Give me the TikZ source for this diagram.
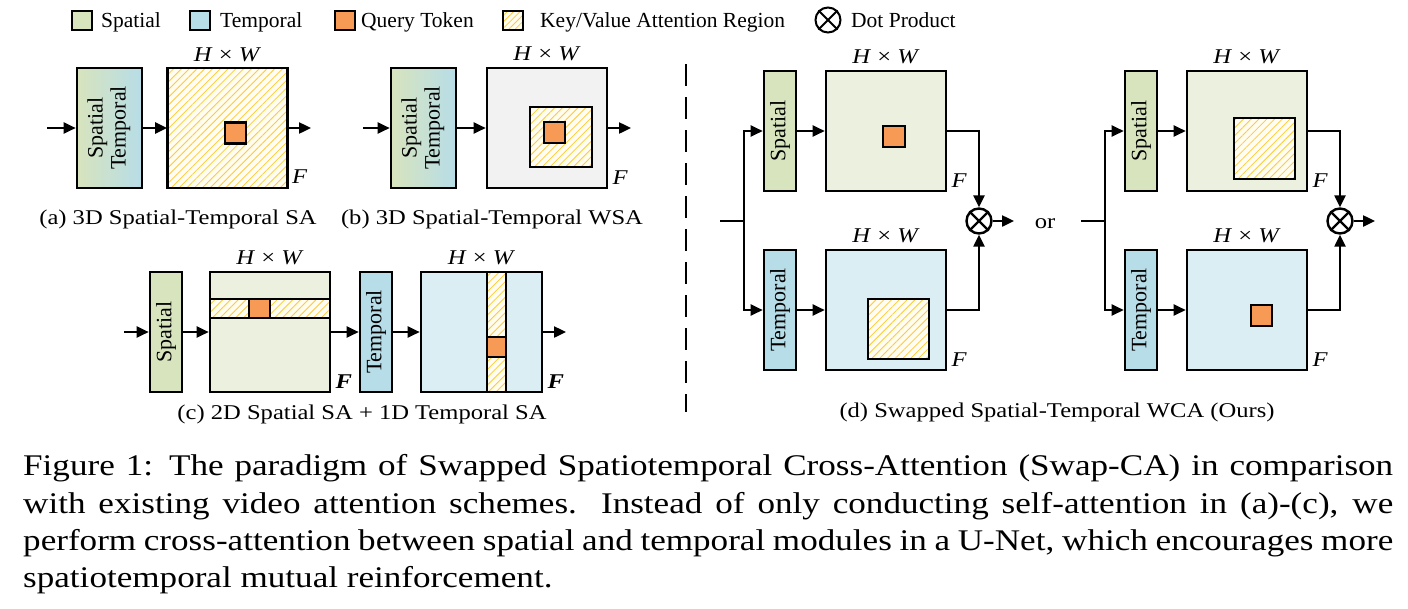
\documentclass[tikz,border=0pt]{standalone}
\usepackage{fontspec}
\setmainfont{Liberation Serif}
\newfontfamily\lblfam{Liberation Serif}[FakeStretch=1.17]
\usetikzlibrary{arrows.meta,patterns.meta,calc}
\definecolor{spA}{HTML}{D7E4BD}
\definecolor{spB}{HTML}{EBF1DE}
\definecolor{tpA}{HTML}{B7DDE8}
\definecolor{tpB}{HTML}{DAEEF3}
\definecolor{qcol}{HTML}{F79A56}
\definecolor{hatchc}{HTML}{FFCA33}
\definecolor{hatchbg}{HTML}{FFFCF2}
\definecolor{grayA}{HTML}{F2F2F2}
\newcommand\myboxfont{\fontsize{22}{23}\selectfont}
\newcommand\mylblfont{\lblfam\fontsize{21}{24}\selectfont}
\newcommand\mylegfont{\fontsize{21.5}{24}\selectfont}
\newcommand\mycapfont{\lblfam\fontsize{30}{37}\selectfont}
\begin{document}
\begin{tikzpicture}[x=1pt,y=-1pt,
  every node/.style={inner sep=0pt},
  mod/.style={draw, line width=2.6pt, minimum width=32pt, minimum height=120pt, font=\myboxfont},
  fmap/.style={draw, line width=2.6pt, minimum width=120pt, minimum height=120pt},
  tok/.style={draw, line width=2.4pt, fill=qcol, minimum width=21pt, minimum height=21pt},
  hatchpat/.style={preaction={fill=hatchbg}, pattern={Lines[angle=45,distance=5.5pt,line width=0.8pt]}, pattern color=hatchc},
  hatch/.style={draw, line width=2.4pt, hatchpat},
  arr/.style={line width=2.4pt, -{Triangle[length=12pt,width=11pt]}},
  ln/.style={line width=2.4pt},
  hw/.style={font=\mylblfont, anchor=base, yshift=6pt},
  flab/.style={font=\mylblfont, anchor=base west, xshift=4pt, yshift=5pt},
  sub/.style={font=\mylblfont, anchor=base},
  sw/.style={draw, line width=2pt, minimum width=20pt, minimum height=19pt},
  leg/.style={font=\mylegfont, anchor=base west},
  otimes/.style={draw, circle, line width=2.4pt, minimum size=25pt}
]
\fill[white] (0,0) rectangle (1408,608);
\useasboundingbox (0,0) rectangle (1408,608);

% ---------- legend ----------
\node[sw, fill=spA] (lg1) at (81.5,20.5) {};
\node[leg] (lt1) at (101,27) {Spatial};
\node[sw, fill=tpA] (lg2) at (199.5,20.5) {};
\node[leg] (lt2) at (220,27) {Temporal};
\node[sw, fill=qcol] (lg3) at (344.5,20.5) {};
\node[leg] (lt3) at (361,27) {Query Token};
\node[sw, preaction={fill=hatchbg}, pattern={Lines[angle=45,distance=4.5pt,line width=0.8pt]}, pattern color=hatchc] (lg4) at (513,20.5) {};
\node[leg] (lt4) at (540,27) {Key/Value Attention Region};
\node[otimes, line width=2pt, minimum size=25pt] (lg5) at (828,20) {};
\draw[line width=2pt] (lg5.north east) -- (lg5.south west) (lg5.north west) -- (lg5.south east);
\node[leg] (lt5) at (851,27) {Dot Product};

% ---------- (a) ----------
\coordinate (ain) at (47,128);
\node[mod, minimum width=65pt, left color=spA, right color=tpA] (ga) at (109.5,128)
  {\rotatebox{90}{\begin{tabular}{@{}c@{}}Spatial\\Temporal\end{tabular}}};
\node[fmap, hatchpat] (A) at (227.5,128) {};
\node[tok] (qa) at (235.5,133) {};
\coordinate (aout) at (311,128);
\draw[arr] (ain) -- (ga.west);
\draw[arr] (ga.east) -- (A.west);
\draw[arr] (A.east) -- (aout);
\node[hw] (hwa) at (A.north) {\textit{H} × \textit{W}};
\node[flab] (fa) at (A.south east) {\textit{F}};
\node[sub] (capa) at (178,224) {(a) 3D Spatial-Temporal SA};

% ---------- (b) ----------
\coordinate (bin) at (363,128);
\node[mod, minimum width=65pt, left color=spA, right color=tpA] (gb) at (423.5,128)
  {\rotatebox{90}{\begin{tabular}{@{}c@{}}Spatial\\Temporal\end{tabular}}};
\node[fmap, fill=grayA] (B) at (547,128) {};
\node[hatch, minimum width=62pt, minimum height=60pt] (wb) at (561,137) {};
\node[tok] (qb) at (554.5,132.5) {};
\coordinate (bout) at (631,128);
\draw[arr] (bin) -- (gb.west);
\draw[arr] (gb.east) -- (B.west);
\draw[arr] (B.east) -- (bout);
\node[hw] (hwb) at (B.north) {\textit{H} × \textit{W}};
\node[flab] (fb) at (B.south east) {\textit{F}};
\node[sub] (capb) at (492,224) {(b) 3D Spatial-Temporal WSA};

% ---------- (c) ----------
\coordinate (cin) at (124,332);
\node[mod, fill=spA] (spc) at (166,332) {\rotatebox{90}{Spatial}};
\node[fmap, fill=spB] (C1) at (270,332) {};
\node[hatch, minimum width=120pt, minimum height=19pt] (rowc) at (270,308.5) {};
\node[tok, minimum height=19pt] (qc1) at (259.5,308.5) {};
\node[mod, fill=tpA] (tpc) at (376,332) {\rotatebox{90}{Temporal}};
\node[fmap, minimum width=121pt, fill=tpB] (C2) at (481.5,332) {};
\node[hatch, minimum width=19pt, minimum height=120pt] (colc) at (496.5,332) {};
\node[tok, minimum width=19pt, minimum height=20pt] (qc2) at (496.5,347) {};
\coordinate (cout) at (566,332);
\draw[arr] (cin) -- (spc.west);
\draw[arr] (spc.east) -- (C1.west);
\draw[arr] (C1.east) -- (tpc.west);
\draw[arr] (tpc.east) -- (C2.west);
\draw[arr] (C2.east) -- (cout);
\node[hw] (hwc1) at (C1.north) {\textit{H} × \textit{W}};
\node[hw] (hwc2) at (C2.north) {\textit{H} × \textit{W}};
\node[flab] (fc1) at (C1.south east) {\textbf{\textit{F}}};
\node[flab] (fc2) at (C2.south east) {\textbf{\textit{F}}};
\node[sub] (capc) at (362,419) {(c) 2D Spatial SA + 1D Temporal SA};

% ---------- divider ----------
\coordinate (dv1) at (686,64);
\coordinate (dv2) at (686,412);
\draw[line width=2.6pt, dash pattern=on 22pt off 11pt] (dv1) -- (dv2);

% ---------- (d) left ----------
\coordinate (din) at (720,221);
\coordinate (dbr) at (744,221);
\node[mod, fill=spA] (sd1) at (780,131) {\rotatebox{90}{Spatial}};
\node[mod, fill=tpA] (td1) at (780,310) {\rotatebox{90}{Temporal}};
\node[fmap, fill=spB] (D1) at (886,131) {};
\node[tok, minimum width=22pt] (qd1) at (894,136.5) {};
\node[fmap, fill=tpB] (D2) at (886,310) {};
\node[hatch, minimum width=61pt, minimum height=60pt] (wd2) at (898.5,329) {};
\node[otimes] (ot1) at (979,221) {};
\draw[ln] (ot1.north east) -- (ot1.south west) (ot1.north west) -- (ot1.south east);
\coordinate (dout1) at (1014,221);
\draw[ln] (din) -- (dbr);
\draw[arr] (dbr) |- (sd1.west);
\draw[arr] (dbr) |- (td1.west);
\draw[arr] (sd1.east) -- (D1.west);
\draw[arr] (td1.east) -- (D2.west);
\draw[arr] (D1.east) -| (ot1.north);
\draw[arr] (D2.east) -| (ot1.south);
\draw[arr] (ot1.east) -- (dout1);
\node[hw] (hwd1) at (D1.north) {\textit{H} × \textit{W}};
\node[hw] (hwd2) at (D2.north) {\textit{H} × \textit{W}};
\node[flab] (fd1) at (D1.south east) {\textit{F}};
\node[flab] (fd2) at (D2.south east) {\textit{F}};
\node[font=\mylblfont, anchor=base] (orl) at (1045,228) {or};

% ---------- (d) right ----------
\coordinate (ein) at (1081,221);
\coordinate (ebr) at (1105,221);
\node[mod, fill=spA] (sd2) at (1141,131) {\rotatebox{90}{Spatial}};
\node[mod, fill=tpA] (td2) at (1141,310) {\rotatebox{90}{Temporal}};
\node[fmap, fill=spB] (D3) at (1247,131) {};
\node[hatch, minimum width=61pt, minimum height=61pt] (wd3) at (1264.5,148.5) {};
\node[fmap, fill=tpB] (D4) at (1247,310) {};
\node[tok] (qd4) at (1261.5,315.5) {};
\node[otimes] (ot2) at (1340,221) {};
\draw[ln] (ot2.north east) -- (ot2.south west) (ot2.north west) -- (ot2.south east);
\coordinate (dout2) at (1375,221);
\draw[ln] (ein) -- (ebr);
\draw[arr] (ebr) |- (sd2.west);
\draw[arr] (ebr) |- (td2.west);
\draw[arr] (sd2.east) -- (D3.west);
\draw[arr] (td2.east) -- (D4.west);
\draw[arr] (D3.east) -| (ot2.north);
\draw[arr] (D4.east) -| (ot2.south);
\draw[arr] (ot2.east) -- (dout2);
\node[hw] (hwd3) at (D3.north) {\textit{H} × \textit{W}};
\node[hw] (hwd4) at (D4.north) {\textit{H} × \textit{W}};
\node[flab] (fd3) at (D3.south east) {\textit{F}};
\node[flab] (fd4) at (D4.south east) {\textit{F}};
\node[sub] (capd) at (1057,417) {(d) Swapped Spatial-Temporal WCA (Ours)};

% ---------- caption ----------
\node[font=\mycapfont, anchor=base west] (cap1) at (23,475) {\makebox[1370pt][s]{Figure 1: The paradigm of Swapped Spatiotemporal Cross-Attention (Swap-CA) in comparison}};
\node[font=\mycapfont, anchor=base west] (cap2) at (23,513) {\makebox[1370pt][s]{with existing video attention schemes. Instead of only conducting self-attention in (a)-(c), we}};
\node[font=\mycapfont, anchor=base west] (cap3) at (23,550) {\makebox[1370pt][s]{perform cross-attention between spatial and temporal modules in a U-Net, which encourages more}};
\node[font=\mycapfont, anchor=base west] (cap4) at (23,587) {spatiotemporal mutual reinforcement.};
\end{tikzpicture}
\end{document}
